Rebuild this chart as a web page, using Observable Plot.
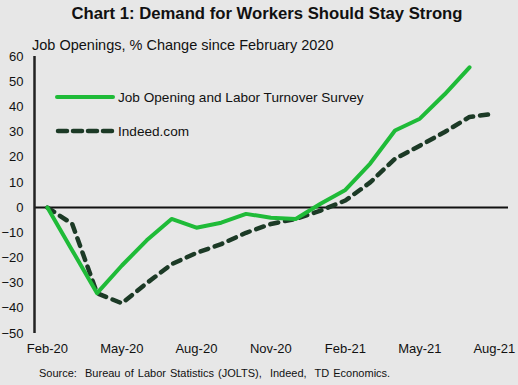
<!DOCTYPE html>
<html>
<head>
<meta charset="utf-8">
<script src="https://cdn.jsdelivr.net/npm/d3@7"></script>
<script src="https://cdn.jsdelivr.net/npm/@observablehq/plot@0.6"></script>
<style>
  html, body { margin: 0; padding: 0; background: #e7e7e7; }
  #wrap { position: relative; width: 518px; height: 385px; background: #e7e7e7; overflow: hidden;
          font-family: Arial, "Liberation Sans", sans-serif; color: #111; }
  #title { position: absolute; left: 8px; top: 4px; width: 518px; text-align: center; font-weight: bold; font-size: 16.7px; }
  #subtitle { position: absolute; left: 32px; top: 37px; font-size: 14.5px; white-space: nowrap; }
  #chart { position: absolute; left: 0; top: 30px; }
  #source { position: absolute; left: 39px; top: 367px; font-size: 11px; white-space: nowrap; word-spacing: 1px; }
  .leg { position: absolute; left: 55px; font-size: 13.6px; white-space: nowrap; display: flex; align-items: center; }
  .leg svg { margin-right: 3px; }
</style>
</head>
<body>
<div id="wrap">
  <div id="title">Chart 1: Demand for Workers Should Stay Strong</div>
  <div id="subtitle">Job Openings, % Change since February 2020</div>
  <div id="chart"></div>
  <div class="leg" id="leg1" style="top:88px"></div>
  <div class="leg" id="leg2" style="top:122px"></div>
  <div id="source">Source:&nbsp; Bureau of Labor Statistics (JOLTS),&nbsp; Indeed,&nbsp; TD Economics.</div>
</div>
<script>
// Months since Feb-2020 (0 = Feb-20)
const months = ["Feb-20","Mar-20","Apr-20","May-20","Jun-20","Jul-20","Aug-20","Sep-20","Oct-20","Nov-20","Dec-20","Jan-21","Feb-21","Mar-21","Apr-21","May-21","Jun-21","Jul-21","Aug-21"];
const jolts  = [0, -17, -34, -23, -13, -4.5, -8, -6, -2.5, -4, -4.5, 1.5, 7, 17.5, 30.6, 35.3, 45, 55.7];
const indeed = [0, -6.5, -34, -38, -30, -22.5, -18, -14.5, -10, -6.5, -4.5, -1.2, 2.8, 10, 19.4, 24.6, 30, 36, 37.3];
const tickIdx = [0, 3, 6, 9, 12, 15, 18];
const yTicks = [-50, -40, -30, -20, -10, 0, 10, 20, 30, 40, 50, 60];
const seriesNames = ["Job Opening and Labor Turnover Survey", "Indeed.com"];

const green = "#1fbb38";
const dark = "#1c3a26";

const joltsData = jolts.map((v, i) => ({i, v}));
const indeedData = indeed.map((v, i) => ({i, v}));

const xDomain = [-0.52, 18.57];

const plot = Plot.plot({
  width: 518,
  height: 332,
  marginTop: 26,
  marginBottom: 29,
  marginLeft: 34,
  marginRight: 10,
  style: { background: "transparent", fontFamily: "Arial, 'Liberation Sans', sans-serif", fontSize: "13px", color: "#111" },
  x: { domain: xDomain, ticks: tickIdx, tickFormat: i => months[i], tickSize: 0, tickPadding: 10, label: null },
  y: { domain: [-50, 60], ticks: yTicks, tickSize: 0, tickPadding: 11, label: null },
  marks: [
    Plot.ruleY([0], { x1: xDomain[0], x2: xDomain[1], stroke: "#111", strokeWidth: 2 }),
    Plot.ruleX([xDomain[0]], { y1: -50, y2: 60, stroke: "#222", strokeWidth: 2.5 }),
    Plot.line(indeedData, { x: "i", y: "v", stroke: dark, strokeWidth: 4.5, strokeDasharray: "8,7", strokeLinecap: "round", strokeLinejoin: "round" }),
    Plot.line(joltsData, { x: "i", y: "v", stroke: green, strokeWidth: 4, strokeLinejoin: "round" })
  ]
});
document.getElementById("chart").appendChild(plot);

// legend
document.getElementById("leg1").innerHTML =
  `<svg width="60" height="18"><line x1="2" y1="9" x2="58" y2="9" stroke="${green}" stroke-width="4" stroke-linecap="round"/></svg><span>${seriesNames[0]}</span>`;
document.getElementById("leg2").innerHTML =
  `<svg width="60" height="18"><line x1="3" y1="9" x2="58" y2="9" stroke="${dark}" stroke-width="4.5" stroke-dasharray="9,6" stroke-linecap="round"/></svg><span>${seriesNames[1]}</span>`;
</script>
</body>
</html>
